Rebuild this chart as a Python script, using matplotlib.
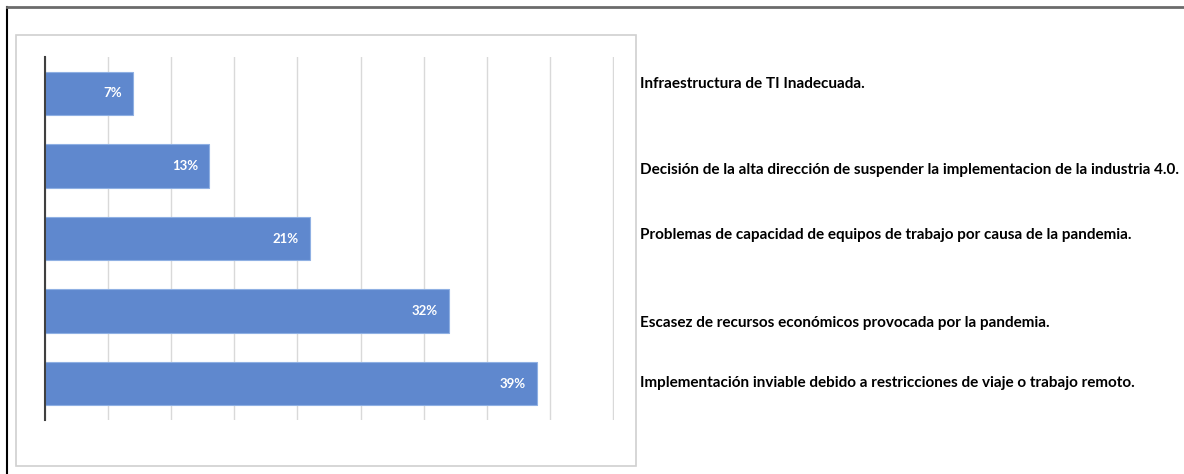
import matplotlib
matplotlib.use("Agg")
import matplotlib.pyplot as plt
from matplotlib.patches import Rectangle
from matplotlib.lines import Line2D

# Datos (de arriba hacia abajo)
causas = [
    "Infraestructura de TI Inadecuada.",
    "Decisión de la alta dirección de suspender la implementacion de la industria 4.0.",
    "Problemas de capacidad de equipos de trabajo por causa de la pandemia.",
    "Escasez de recursos económicos provocada por la pandemia.",
    "Implementación inviable debido a restricciones de viaje o trabajo remoto.",
]
porcentajes = [7, 13, 21, 32, 39]

FONT = ["Lato", "DejaVu Sans"]
BAR_COLOR = "#5F88CE"

fig = plt.figure(figsize=(11.84, 4.74), dpi=100)
W, H = 1184, 474

def fx(px):
    return px / W

def fy(py):
    return 1 - py / H

# Marco exterior del documento
fig.add_artist(Line2D([fx(7), fx(7)], [fy(7), fy(474)], color="black", lw=1.5))
fig.add_artist(Line2D([fx(7), 1], [fy(7), fy(7)], color="#6b6b6b", lw=2.0))

# Caja del grafico
fig.add_artist(Rectangle((fx(16), fy(466)), fx(636) - fx(16), fy(35) - fy(466),
                         transform=fig.transFigure, fill=False,
                         edgecolor="#d0d0d0", lw=1.2))

ax = fig.add_axes([fx(45), fy(420), fx(614) - fx(45), fy(57) - fy(420)])
y = list(range(len(porcentajes)))
bars = ax.barh(y, porcentajes, height=0.6, color=BAR_COLOR,
               edgecolor="#8fb0e3", linewidth=0.8, zorder=2)
ax.set_xlim(0, 45.08)
ax.set_ylim(4.5, -0.5)
ax.set_xticks(range(0, 50, 5))
ax.set_yticks([])
ax.tick_params(axis="x", length=0, labelbottom=False)
ax.grid(True, axis="x", color="#d9d9d9", lw=1.0, zorder=0)
for s in ["top", "right", "bottom"]:
    ax.spines[s].set_visible(False)
ax.spines["left"].set_color("#404040")
ax.spines["left"].set_linewidth(1.5)
ax.set_zorder(3)

for b, v in zip(bars, porcentajes):
    ax.annotate(f"{v}%", xy=(b.get_width(), b.get_y() + b.get_height() / 2),
                xytext=(-8, 0), textcoords="offset points",
                ha="right", va="center", color="white", fontsize=9.5,
                fontweight="bold", family=FONT)

# Etiquetas de causas a la derecha
label_y = [84, 170, 235, 323, 383]
textos = []
for texto, py in zip(causas, label_y):
    t = fig.text(fx(640), fy(py), texto, ha="left", va="center",
                 fontsize=11, fontweight="bold", family=FONT, color="black")
    textos.append(t)

# ajustar tamano para que la etiqueta mas larga quepa hasta el borde
renderer = fig.canvas.get_renderer()
ancho = max(t.get_window_extent(renderer).width for t in textos)
escala = min(1.0, 540 / ancho)
for t in textos:
    t.set_fontsize(11 * escala)

fig.savefig("out.png", dpi=100)
